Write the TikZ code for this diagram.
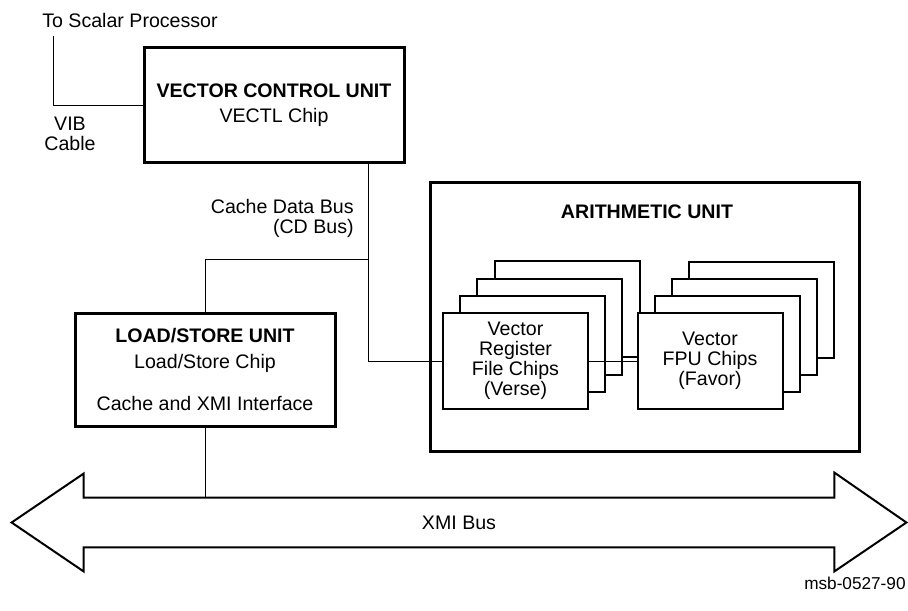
\documentclass[tikz,border=0pt]{standalone}
\usepackage{fontspec}
\setmainfont{Liberation Sans}
\usetikzlibrary{calc}
\tikzset{
  unitbox/.style={
    rectangle, draw, line width=1.5pt, fill=white,
    minimum width=130pt, minimum height=57pt,
    align=center, inner sep=0pt
  },
  chipbox/.style={
    rectangle, draw, line width=1pt, fill=white,
    minimum width=72.5pt, minimum height=48pt,
    align=center, inner sep=0pt
  },
  wire/.style={line width=0.5pt},
  busline/.style={line width=1pt, line join=miter},
  plainlabel/.style={align=center, inner sep=0pt},
}

\begin{document}
\begin{tikzpicture}[x=0.5pt, y=-0.5pt, font=\fontsize{9.8}{10}\selectfont]
      \useasboundingbox (0,0) rectangle (908,610);
      % control and load/store units
      \node[unitbox](vcu) at (274,105)
        {\textbf{VECTOR CONTROL UNIT}\\[2.5pt]VECTL Chip};
      \node[unitbox, minimum height=56.5pt](lsu) at (205,369.5)
        {\textbf{LOAD/STORE UNIT}\\[3pt]Load/Store Chip\\[11pt]Cache and XMI Interface};
      % arithmetic unit with chip stacks
      \node[unitbox, minimum width=214.5pt, minimum height=134.5pt](au) at (644.5,316.5) {};
      \node[plainlabel, font=\fontsize{9.8}{10}\selectfont\bfseries](autitle) at (647,212) {ARITHMETIC UNIT};
      \foreach \k in {3,2,1}{
        \node[chipbox, xshift=\k*8.6pt, yshift=\k*8.6pt](vrf\k) at (515.5,361) {};
        \node[chipbox, xshift=\k*8.5pt, yshift=\k*8.5pt](fpu\k) at (710,361) {};
      }
      \node[chipbox](vrf) at (515.5,361) {Vector\\Register\\File Chips\\(Verse)};
      \node[chipbox](fpu) at (710,361) {Vector\\FPU Chips\\(Favor)};
      % XMI bus
      \node[minimum width=375pt, minimum height=24.5pt, inner sep=0pt](bus) at (459,522.5) {XMI Bus};
      \draw[busline] (bus.north west) -- (bus.north east) -- ++(0,-25)
        -- ($(bus.east)+(72,0)$) -- ($(bus.south east)+(0,24)$)
        -- (bus.south east) -- (bus.south west) -- ++(0,24)
        -- ($(bus.west)+(-72,0)$) -- ($(bus.north west)+(0,-24)$) -- cycle;
      % labels
      \node[plainlabel](sptext) at (130,20) {To Scalar Processor};
      \node[plainlabel](vib) at (70,134) {VIB\\Cable};
      \node[plainlabel, align=right, anchor=east](cdtext) at (354,218) {Cache Data Bus\\(CD Bus)};
      \node[plainlabel, anchor=east, font=\fontsize{8.6}{10}\selectfont](figid) at (906,583) {msb-0527-90};
      % connectors
      \coordinate (sp) at (53,36);
      \coordinate (cd) at (368,259);
      \draw[wire](sp) |- (vcu.west);
      \draw[wire](vcu.south -| cd) -- (cd |- vrf.west) -- (vrf.west);
      \draw[wire](cd) -| (lsu.north);
      \draw[wire](vrf.east) -- (fpu.west);
      \draw[wire](lsu.south) -- (lsu.south |- bus.north);
    \end{tikzpicture}
\end{document}
